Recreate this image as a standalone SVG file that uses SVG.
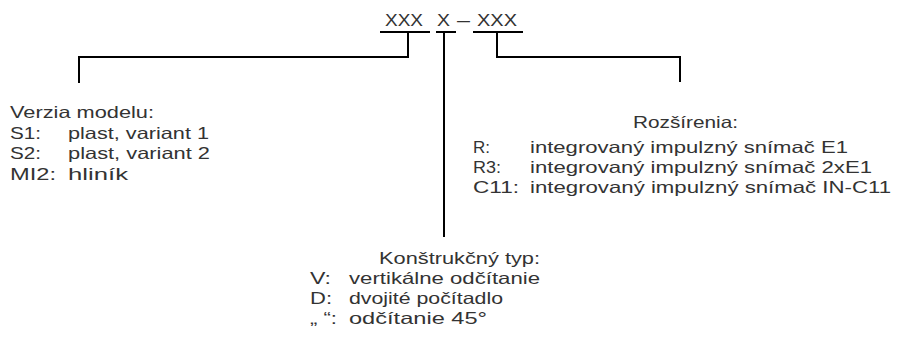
<svg xmlns="http://www.w3.org/2000/svg" width="897" height="343" viewBox="0 0 897 343">
<style>
text{font-family:"Liberation Sans","Noto Sans",sans-serif;font-size:16.5px;fill:#333}
.ln{fill:none;stroke:#000;stroke-width:2}
</style>
<rect width="897" height="343" fill="#fff"/>
<g id="code">
<text x="385" y="26" textLength="38" lengthAdjust="spacingAndGlyphs">XXX</text>
<text x="437" y="26" textLength="13" lengthAdjust="spacingAndGlyphs">X</text>
<text x="457" y="26" textLength="13" lengthAdjust="spacingAndGlyphs">–</text>
<text x="477" y="26" textLength="40" lengthAdjust="spacingAndGlyphs">XXX</text>
</g>
<g id="connectors">
<path class="ln" d="M380 32H430M436 32H456M473 32H523"/>
<path class="ln" d="M408 32V57H79V83"/>
<path class="ln" d="M444 32V237"/>
<path class="ln" d="M497 32V57H680V82"/>
</g>
<g id="model">
<text x="10" y="118" textLength="144" lengthAdjust="spacingAndGlyphs">Verzia modelu:</text>
<text x="10" y="139" textLength="31" lengthAdjust="spacingAndGlyphs">S1:</text>
<text x="68" y="139" textLength="141" lengthAdjust="spacingAndGlyphs">plast, variant 1</text>
<text x="10" y="159" textLength="31" lengthAdjust="spacingAndGlyphs">S2:</text>
<text x="68" y="159" textLength="142" lengthAdjust="spacingAndGlyphs">plast, variant 2</text>
<text x="10" y="180" textLength="46" lengthAdjust="spacingAndGlyphs">MI2:</text>
<text x="68" y="180" textLength="60" lengthAdjust="spacingAndGlyphs">hliník</text>
</g>
<g id="ext">
<text x="633" y="128" textLength="105" lengthAdjust="spacingAndGlyphs">Rozšírenia:</text>
<text x="473" y="153" textLength="17" lengthAdjust="spacingAndGlyphs">R:</text>
<text x="530" y="153" textLength="318" lengthAdjust="spacingAndGlyphs">integrovaný impulzný snímač E1</text>
<text x="473" y="173" textLength="28" lengthAdjust="spacingAndGlyphs">R3:</text>
<text x="530" y="173" textLength="342" lengthAdjust="spacingAndGlyphs">integrovaný impulzný snímač 2xE1</text>
<text x="473" y="193" textLength="46" lengthAdjust="spacingAndGlyphs">C11:</text>
<text x="530" y="193" textLength="361" lengthAdjust="spacingAndGlyphs">integrovaný impulzný snímač IN-C11</text>
</g>
<g id="type">
<text x="379" y="264" textLength="161" lengthAdjust="spacingAndGlyphs">Konštrukčný typ:</text>
<text x="310" y="284" textLength="21" lengthAdjust="spacingAndGlyphs">V:</text>
<text x="349" y="284" textLength="191" lengthAdjust="spacingAndGlyphs">vertikálne odčítanie</text>
<text x="310" y="304" textLength="22" lengthAdjust="spacingAndGlyphs">D:</text>
<text x="349" y="304" textLength="154" lengthAdjust="spacingAndGlyphs">dvojité počítadlo</text>
<text x="310" y="324" textLength="27" lengthAdjust="spacingAndGlyphs">„ “:</text>
<text x="349" y="324" textLength="138" lengthAdjust="spacingAndGlyphs">odčítanie 45°</text>
</g>
</svg>
